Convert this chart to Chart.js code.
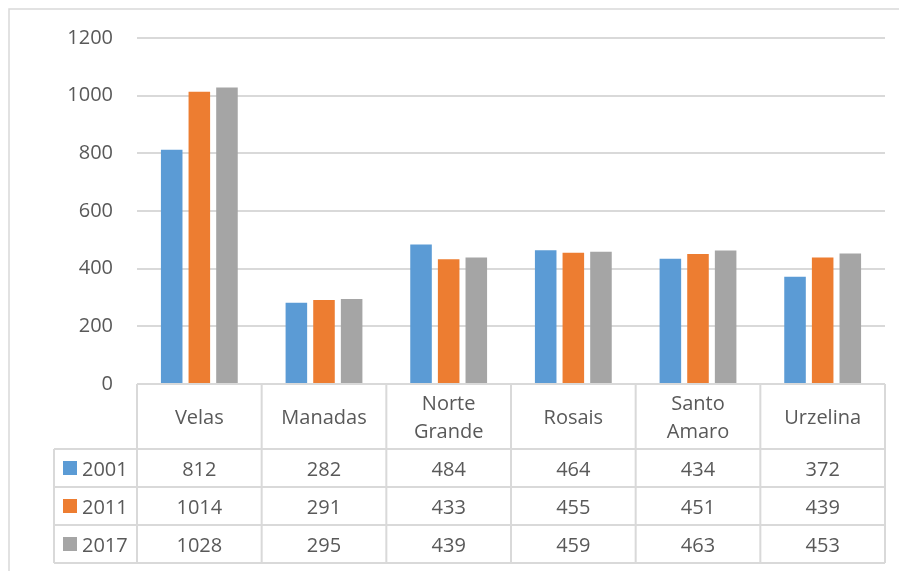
<!DOCTYPE html>
<html>
<head>
<meta charset="utf-8">
<script src="https://cdn.jsdelivr.net/npm/chart.js@4/dist/chart.umd.min.js"></script>
<style>
  html, body { margin: 0; padding: 0; background: #fff; }
  #wrap { position: relative; width: 899px; height: 571px; }
</style>
</head>
<body>
<div id="wrap"><canvas id="c" width="899" height="571"></canvas></div>
<script>
// Freguesias do concelho das Velas – população por ano
const categories = [["Velas"], ["Manadas"], ["Norte", "Grande"], ["Rosais"], ["Santo", "Amaro"], ["Urzelina"]];
const years = ["2001", "2011", "2017"];
const values2001 = [812, 282, 484, 464, 434, 372];
const values2011 = [1014, 291, 433, 455, 451, 439];
const values2017 = [1028, 295, 439, 459, 463, 453];
const yTicks = [0, 200, 400, 600, 800, 1000, 1200];

const colors = ["#5b9bd5", "#ed7d31", "#a5a5a5"];
const textColor = "#595959";
const lineColor = "#d9d9d9";
const fontFamily = "'Open Sans', Lato, sans-serif";
const fontSize = 20;

const seriesValues = [values2001, values2011, values2017];

// Draws the outer frame plus the data table under the plot area
const dataTablePlugin = {
  id: "dataTable",
  afterDraw(chart) {
    const ctx = chart.ctx;
    const area = chart.chartArea;
    const xs = chart.scales.x;
    const n = categories.length;
    const colW = (area.right - area.left) / n;
    const headerH = 65;
    const rowH = 38;
    const legendLeft = 54;
    const top = area.bottom;
    const headerBottom = top + headerH;
    const tableBottom = headerBottom + rowH * years.length;
    const textShift = 2; // optical centring of text in the cells

    ctx.save();
    // outer frame
    ctx.strokeStyle = lineColor;
    ctx.lineWidth = 1.5;
    ctx.beginPath();
    ctx.moveTo(9, 571);
    ctx.lineTo(9, 9);
    ctx.lineTo(899, 9);
    ctx.stroke();

    // table grid
    ctx.lineWidth = 2;
    ctx.beginPath();
    ctx.moveTo(area.left, top);
    ctx.lineTo(area.right, top);
    ctx.moveTo(legendLeft, headerBottom);
    ctx.lineTo(area.right, headerBottom);
    for (let r = 1; r <= years.length; r++) {
      const y = headerBottom + rowH * r;
      ctx.moveTo(legendLeft, y);
      ctx.lineTo(area.right, y);
    }
    ctx.moveTo(legendLeft, headerBottom);
    ctx.lineTo(legendLeft, tableBottom);
    for (let i = 0; i <= n; i++) {
      const x = i < n ? xs.getPixelForValue(i) - colW / 2 : xs.getPixelForValue(n - 1) + colW / 2;
      ctx.moveTo(x, top);
      ctx.lineTo(x, tableBottom);
    }
    ctx.stroke();

    // category headers
    ctx.fillStyle = textColor;
    ctx.font = fontSize + "px " + fontFamily;
    ctx.textAlign = "center";
    ctx.textBaseline = "middle";
    const lineH = 28;
    categories.forEach((lines, i) => {
      const cx = xs.getPixelForValue(i);
      const cy = top + headerH / 2 + textShift;
      lines.forEach((t, k) => {
        ctx.fillText(t, cx, cy + (k - (lines.length - 1) / 2) * lineH);
      });
    });

    // value rows with legend keys
    years.forEach((yr, r) => {
      const cy = headerBottom + rowH * r + rowH / 2;
      ctx.fillStyle = colors[r];
      ctx.fillRect(63, cy - 7, 14, 14);
      ctx.fillStyle = textColor;
      ctx.textAlign = "left";
      ctx.fillText(yr, 82, cy + textShift);
      ctx.textAlign = "center";
      seriesValues[r].forEach((v, i) => {
        ctx.fillText(String(v), xs.getPixelForValue(i), cy + textShift);
      });
    });
    ctx.restore();
  }
};

new Chart(document.getElementById("c"), {
  type: "bar",
  data: {
    labels: categories.map(c => c.join(" ")),
    datasets: years.map((yr, r) => ({
      label: yr,
      data: seriesValues[r],
      backgroundColor: colors[r],
      borderWidth: 0,
      categoryPercentage: 0.665,
      barPercentage: 0.78
    }))
  },
  options: {
    responsive: false,
    animation: false,
    devicePixelRatio: 1,
    layout: { padding: { left: 0, right: 14, top: 38, bottom: 187 } },
    plugins: {
      legend: { display: false },
      tooltip: { enabled: false }
    },
    scales: {
      x: { display: false },
      y: {
        min: 0,
        max: 1200,
        afterBuildTicks(scale) { scale.ticks = yTicks.map(v => ({ value: v })); },
        afterFit(scale) { scale.width = 137; },
        border: { display: false },
        grid: { color: lineColor, lineWidth: 2, drawTicks: false },
        ticks: {
          padding: 24,
          color: textColor,
          font: { family: fontFamily, size: fontSize },
          callback: v => String(v)
        }
      }
    }
  },
  plugins: [dataTablePlugin]
});
</script>
</body>
</html>
